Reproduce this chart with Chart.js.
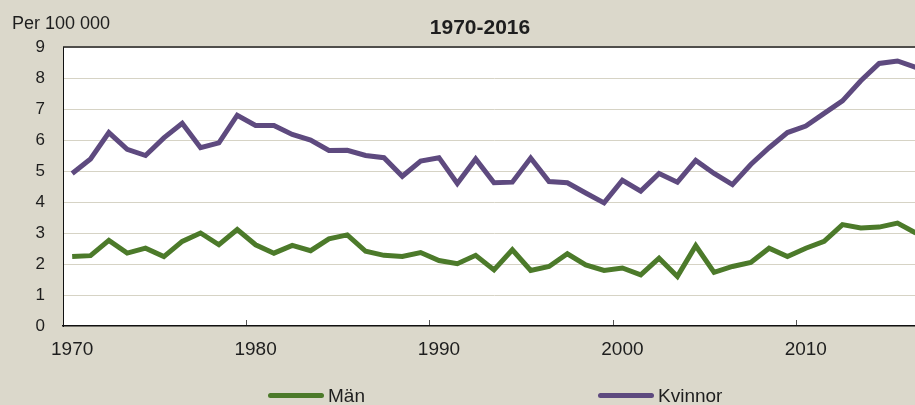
<!DOCTYPE html>
<html lang="sv">
<head>
<meta charset="utf-8">
<title>1970-2016</title>
<script src="https://cdn.jsdelivr.net/npm/chart.js@4.4.1/dist/chart.umd.min.js"></script>
<style>
    html, body { margin: 0; padding: 0; background: #dbd8cb; overflow: hidden; }
    #wrap { position: relative; width: 915px; height: 405px; overflow: hidden; font-family: "Liberation Sans", Arial, sans-serif; color: #1e1e1e; }
    #chart_main { position: absolute; left: 0; top: 0; }
    #unit { position: absolute; left: 12px; top: 14px; font-size: 18px; line-height: 18px; white-space: nowrap; }
    #title { position: absolute; left: 480px; top: 16px; transform: translateX(-50%); font-size: 21px; line-height: 21px; font-weight: bold; white-space: nowrap; }
    #legend { position: absolute; left: 268px; top: 386px; display: flex; }
    .item { display: flex; align-items: center; width: 330px; font-size: 19px; line-height: 19px; }
    .item i { display: inline-block; width: 56px; height: 5px; border-radius: 3px; margin-right: 4px; }
</style>
</head>
<body>
<div id="wrap">
    <canvas id="chart_main" width="935" height="405"></canvas>
    <div id="unit">Per 100 000</div>
    <div id="title">1970-2016</div>
    <div id="legend"></div>
</div>
<script>
const years = [
    "1970", "1971", "1972", "1973", "1974", "1975", "1976", "1977", "1978", "1979",
    "1980", "1981", "1982", "1983", "1984", "1985", "1986", "1987", "1988", "1989",
    "1990", "1991", "1992", "1993", "1994", "1995", "1996", "1997", "1998", "1999",
    "2000", "2001", "2002", "2003", "2004", "2005", "2006", "2007", "2008", "2009",
    "2010", "2011", "2012", "2013", "2014", "2015", "2016"
];
const tickLabels = ["1970", "1980", "1990", "2000", "2010"];

const man = [
    2.24, 2.27, 2.76, 2.35, 2.51, 2.24, 2.73, 3.00, 2.62, 3.11,
    2.62, 2.35, 2.60, 2.43, 2.81, 2.94, 2.41, 2.28, 2.24, 2.37,
    2.11, 2.01, 2.28, 1.81, 2.46, 1.79, 1.92, 2.33, 1.97, 1.79,
    1.87, 1.65, 2.19, 1.60, 2.59, 1.73, 1.92, 2.05, 2.51, 2.24,
    2.51, 2.73, 3.27, 3.16, 3.19, 3.32, 3.00
];
const kvinnor = [
    4.92, 5.39, 6.24, 5.70, 5.50, 6.07, 6.54, 5.75, 5.91, 6.80,
    6.47, 6.47, 6.18, 6.00, 5.66, 5.67, 5.50, 5.43, 4.83, 5.32,
    5.43, 4.60, 5.39, 4.62, 4.64, 5.42, 4.66, 4.62, 4.29, 3.97,
    4.70, 4.35, 4.92, 4.64, 5.34, 4.92, 4.56, 5.21, 5.75, 6.24,
    6.45, 6.86, 7.26, 7.91, 8.47, 8.55, 8.34
];

const green = "#4c7a2a";
const purple = "#5e4a7f";
const textColor = "#1e1e1e";
const fontFamily = "'Liberation Sans', Arial, sans-serif";

// white plot area with a dark frame, like the original
const plotArea = {
    id: 'plotArea',
    beforeDraw(chart) {
        const {ctx, chartArea: {left, top, width, height}} = chart;
        ctx.save();
        ctx.fillStyle = '#ffffff';
        ctx.fillRect(left, top, width, height);
        ctx.restore();
    },
    afterDraw(chart) {
        const {ctx, chartArea: {left, top, right}} = chart;
        ctx.save();
        ctx.strokeStyle = '#222';
        ctx.lineWidth = 1.5;
        ctx.beginPath();
        ctx.moveTo(left, top);
        ctx.lineTo(right, top);
        ctx.stroke();
        ctx.restore();
    }
};

const series = [
    {label: 'Män', data: man, color: green},
    {label: 'Kvinnor', data: kvinnor, color: purple}
];

const ctx = document.getElementById("chart_main").getContext("2d");
const mainChart = new Chart(ctx, {
    type: 'line',
    data: {
        labels: years,
        datasets: series.map(s => ({
            label: s.label,
            data: s.data,
            borderColor: s.color,
            backgroundColor: s.color,
            borderWidth: 5,
            pointRadius: 0,
            tension: 0,
            fill: false
        }))
    },
    plugins: [plotArea],
    options: {
        responsive: false,
        animation: false,
        layout: {
            padding: {left: 13, right: 10, top: 47, bottom: 50}
        },
        plugins: {
            legend: {display: false},
            title: {display: false},
            tooltip: {enabled: false}
        },
        scales: {
            x: {
                offset: true,
                border: {color: '#111', width: 1.5},
                grid: {
                    offset: true,
                    drawOnChartArea: false,
                    tickLength: -6,
                    tickWidth: 1,
                    color: (context) => {
                        const i = context.index;
                        return (i > 0 && i < years.length && i % 10 === 0) ? '#555' : 'rgba(0,0,0,0)';
                    }
                },
                ticks: {
                    autoSkip: false,
                    maxRotation: 0,
                    padding: 18.5,
                    color: textColor,
                    font: {size: 19, family: fontFamily},
                    callback: function (value, index) {
                        const label = years[index];
                        return tickLabels.includes(label) ? label : '';
                    }
                },
                afterFit(scale) {
                    scale.height = 29;
                }
            },
            y: {
                min: 0,
                max: 9,
                border: {color: '#111', width: 1},
                grid: {color: '#d6d3c5', lineWidth: 1, drawTicks: false},
                ticks: {
                    stepSize: 1,
                    padding: 18,
                    color: textColor,
                    font: {size: 17, family: fontFamily}
                },
                afterFit(scale) {
                    scale.width = 50;
                }
            }
        }
    }
});

// legend in html, spaced like the original
const legend = document.getElementById("legend");
series.forEach(s => {
    const item = document.createElement("div");
    item.className = "item";
    item.innerHTML = '<i style="background:' + s.color + '"></i>' + s.label;
    legend.appendChild(item);
});
</script>
</body>
</html>
